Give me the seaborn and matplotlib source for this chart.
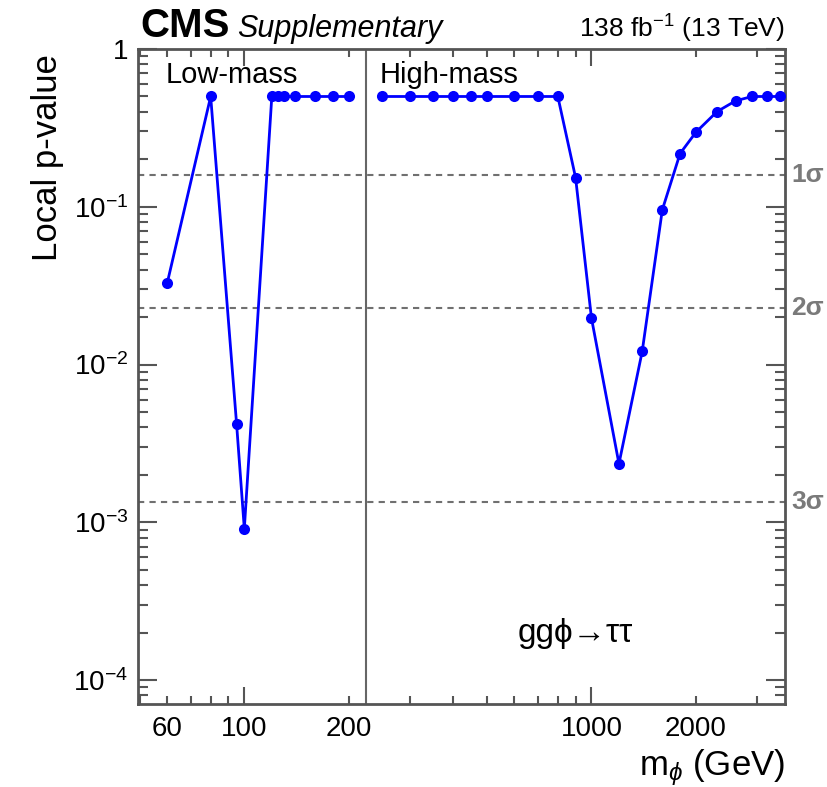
import matplotlib
matplotlib.use("Agg")
import matplotlib.pyplot as plt
import matplotlib.transforms as mtransforms
from matplotlib.ticker import FixedLocator, FuncFormatter, NullFormatter
import numpy as np
import pandas as pd
import seaborn as sns

# Local p-values of the gg->phi->tautau search
low_mass = [60, 80, 95, 100, 120, 125, 130, 140, 160, 180, 200]
low_pval = [0.033, 0.5, 0.0042, 0.00091, 0.5, 0.5, 0.5, 0.5, 0.5, 0.5, 0.5]

high_mass = [250, 300, 350, 400, 450, 500, 600, 700, 800, 900, 1000,
             1200, 1400, 1600, 1800, 2000, 2300, 2600, 2900, 3200, 3500]
high_pval = [0.5, 0.5, 0.5, 0.5, 0.5, 0.5, 0.5, 0.5, 0.5, 0.153, 0.0197,
             0.00235, 0.0121, 0.0957, 0.2175, 0.297, 0.401, 0.469, 0.5, 0.5, 0.5]

# Significance reference levels
sigma_pvals = [0.1587, 0.02275, 0.00135]
sigma_labels = ["1σ", "2σ", "3σ"]

# Axis tick values
x_major = [100, 1000]
x_minor = [50, 60, 70, 80, 90, 200, 300, 400, 500, 600, 700, 800, 900, 2000, 3000]
x_minor_labels = [60, 200, 2000]
region_split = 224.6

sns.set_style("ticks")
plt.rcParams["font.family"] = ["Liberation Sans", "DejaVu Sans"]
plt.rcParams["mathtext.fontset"] = "custom"
plt.rcParams["mathtext.rm"] = "Liberation Sans"
plt.rcParams["mathtext.it"] = "Liberation Sans:italic"
plt.rcParams["mathtext.bf"] = "Liberation Sans:bold"
plt.rcParams["text.color"] = "black"
plt.rcParams["xtick.labelcolor"] = "black"
plt.rcParams["ytick.labelcolor"] = "black"

df_low = pd.DataFrame({"mass": low_mass, "pval": low_pval, "region": "Low-mass"})
df_high = pd.DataFrame({"mass": high_mass, "pval": high_pval, "region": "High-mass"})

fig = plt.figure(figsize=(8.27, 7.87), dpi=100)
ax = fig.add_axes([138 / 827, 1 - 704 / 787, 647 / 827, 655 / 787])
ax.set_xscale("log")
ax.set_yscale("log")

frame_col = "#555555"
for sp in ax.spines.values():
    sp.set_color(frame_col)
    sp.set_linewidth(2.0)

# sigma reference lines
for p in sigma_pvals:
    ax.axhline(p, color="#707070", lw=1.5, ls=(0, (3, 2.5)), zorder=1)

# region divider
ax.axvline(region_split, color="#666666", lw=1.5, zorder=1)

for df in (df_low, df_high):
    sns.lineplot(data=df, x="mass", y="pval", ax=ax, estimator=None,
                 color="#0000ff", lw=2, marker="o", markersize=8,
                 markeredgecolor="#0000ff", markeredgewidth=0, zorder=3)

ax.set_xlim(49.4, 3610)
ax.set_ylim(7.05e-5, 1)

# x ticks
ax.xaxis.set_major_locator(FixedLocator(x_major))
ax.xaxis.set_minor_locator(FixedLocator(x_minor))
ax.xaxis.set_major_formatter(FuncFormatter(lambda v, pos: f"{v:g}"))
ax.xaxis.set_minor_formatter(FuncFormatter(
    lambda v, pos: f"{v:g}" if round(v) in x_minor_labels else ""))

# y ticks
ydec = [1e-4, 1e-3, 1e-2, 1e-1, 1]
ax.yaxis.set_major_locator(FixedLocator(ydec))
yminor = [m * d for d in [1e-5, 1e-4, 1e-3, 1e-2, 1e-1] for m in range(2, 10)]
ax.yaxis.set_minor_locator(FixedLocator(yminor))


def yfmt(v, pos):
    e = int(round(np.log10(v)))
    if e == 0:
        return "1"
    return r"$10^{%d}$" % e


ax.yaxis.set_major_formatter(FuncFormatter(yfmt))
ax.yaxis.set_minor_formatter(NullFormatter())

ax.tick_params(axis="both", which="both", direction="in", top=True, right=True,
               color=frame_col, width=1.5, labelcolor="black")
ax.tick_params(axis="x", which="major", length=12, labelsize=20, pad=9)
ax.tick_params(axis="x", which="minor", length=6, labelsize=20, pad=9)
ax.tick_params(axis="y", which="major", length=14, labelsize=20, pad=7)
ax.tick_params(axis="y", which="minor", length=7)
ax.set_xlabel("")
ax.set_ylabel("")

# sigma labels outside the frame
trans = mtransforms.blended_transform_factory(ax.transAxes, ax.transData)
for p, lab in zip(sigma_pvals, sigma_labels):
    ax.text(1.010, p, lab, transform=trans, ha="left", va="center",
            fontsize=19, fontweight="bold", color="#7a7a7a",
            family=["Liberation Sans", "DejaVu Sans"], clip_on=False)

# region labels
ax.text(0.042, 0.960, "Low-mass", transform=ax.transAxes, ha="left",
        va="center", fontsize=21)
ax.text(0.374, 0.960, "High-mass", transform=ax.transAxes, ha="left",
        va="center", fontsize=21)
ax.text(0.587, 0.108, "ggϕ→ττ", transform=ax.transAxes, ha="left",
        va="center", fontsize=24, family=["Liberation Sans", "DejaVu Sans"])

# header
fig.text(140 / 827, 1 - 37 / 787, "CMS", fontsize=29, fontweight="bold",
         ha="left", va="baseline")
fig.text(237 / 827, 1 - 37 / 787, "Supplementary", fontsize=22,
         style="italic", ha="left", va="baseline")
fig.text(785 / 827, 1 - 38 / 787, r"138 fb$^{-1}$ (13 TeV)", fontsize=19,
         ha="right", va="baseline")

# axis titles
fig.text(48 / 827, 1 - 54 / 787, "Local p-value", rotation=90, fontsize=25,
         ha="center", va="top")
fig.text(785 / 827, 1 - 775 / 787, r"m$_{\phi}$ (GeV)", fontsize=25,
         ha="right", va="baseline")

fig.savefig("out.png", dpi=100)
